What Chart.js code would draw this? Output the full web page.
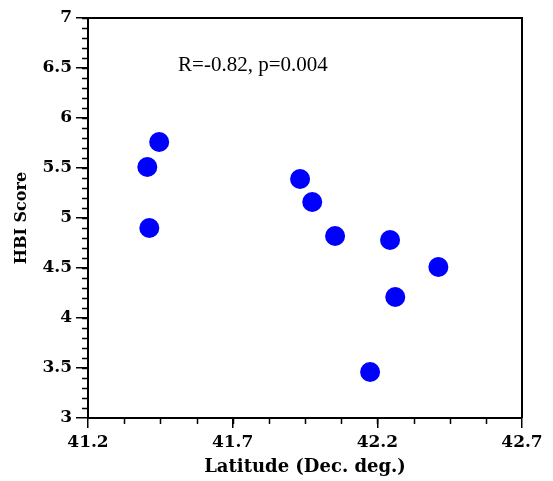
<!DOCTYPE html>
<html>
<head>
<meta charset="utf-8">
<script src="https://cdn.jsdelivr.net/npm/chart.js@4"></script>
<style>
  body { margin: 0; background: #fff; }
</style>
</head>
<body>
<canvas id="hbi_chart" width="553" height="481"></canvas>
<script>
const latitude = [41.446, 41.405, 41.412, 41.933, 41.975, 42.054, 42.244, 42.411, 42.262, 42.175]
const hbiScore = [5.76, 5.51, 4.90, 5.39, 5.16, 4.82, 4.78, 4.51, 4.21, 3.46]
const xTicks = [41.2, 41.7, 42.2, 42.7]
const yTicks = [3, 3.5, 4, 4.5, 5, 5.5, 6, 6.5, 7]
const statsText = 'R=-0.82, p=0.004'
const statsAt = [41.77, 6.53]

const tickFont = { family: 'DejaVu Serif', weight: 'bold', size: 17 }

// box round the plot, minor ticks and the R/p note
const extras = {
  id: 'extras',
  afterDraw(chart) {
    const ctx = chart.ctx
    const { left, right, top, bottom } = chart.chartArea
    const x = chart.scales.x
    const y = chart.scales.y
    ctx.save()
    ctx.strokeStyle = '#000'
    ctx.lineWidth = 1.5
    ctx.beginPath()
    for (let v = 3.1; v < 7; v += 0.1) {
      const py = Math.round(y.getPixelForValue(v)) + 0.5
      ctx.moveTo(left - 6, py)
      ctx.lineTo(left, py)
    }
    for (let v = 41.325; v < 42.7; v += 0.125) {
      const px = Math.round(x.getPixelForValue(v)) + 0.5
      ctx.moveTo(px, bottom)
      ctx.lineTo(px, bottom + 6)
    }
    ctx.stroke()
    ctx.lineWidth = 2
    ctx.beginPath()
    ctx.moveTo(left, top)
    ctx.lineTo(right, top)
    ctx.lineTo(right, bottom)
    ctx.stroke()
    ctx.fillStyle = '#000'
    ctx.font = '21px "Liberation Serif"'
    ctx.textAlign = 'center'
    ctx.textBaseline = 'middle'
    ctx.fillText(statsText, x.getPixelForValue(statsAt[0]), y.getPixelForValue(statsAt[1]))
    ctx.restore()
  },
}

new Chart(document.getElementById('hbi_chart'), {
  type: 'scatter',
  data: {
    datasets: [
      {
        data: latitude.map((lat, i) => ({ x: lat, y: hbiScore[i] })),
        backgroundColor: '#0000ff',
        borderWidth: 0,
        pointRadius: 10,
        pointHoverRadius: 10,
      },
    ],
  },
  options: {
    responsive: false,
    animation: false,
    layout: { padding: { top: 18, right: 31, bottom: 0, left: 0 } },
    plugins: {
      legend: { display: false },
      tooltip: { enabled: false },
    },
    scales: {
      x: {
        type: 'linear',
        min: 41.2,
        max: 42.7,
        afterBuildTicks: (scale) => {
          scale.ticks = xTicks.map((v) => ({ value: v }))
        },
        afterFit: (scale) => {
          scale.height = 63
        },
        grid: { drawOnChartArea: false, tickLength: 10, color: '#000', lineWidth: 1.5 },
        border: { color: '#000', width: 2 },
        ticks: {
          color: '#000',
          font: tickFont,
          padding: 4,
          maxRotation: 0,
          callback: (v) => String(v),
        },
        title: {
          display: true,
          text: 'Latitude (Dec. deg.)',
          color: '#000',
          font: { family: 'DejaVu Serif', weight: 'bold', size: 18 },
          padding: { top: 0, bottom: 3 },
        },
      },
      y: {
        type: 'linear',
        min: 3,
        max: 7,
        afterBuildTicks: (scale) => {
          scale.ticks = yTicks.map((v) => ({ value: v }))
        },
        afterFit: (scale) => {
          scale.width = 88
        },
        grid: { drawOnChartArea: false, tickLength: 12, color: '#000', lineWidth: 1.5 },
        border: { color: '#000', width: 2 },
        ticks: {
          color: '#000',
          font: tickFont,
          padding: 4,
          callback: (v) => String(v),
        },
        title: {
          display: true,
          text: 'HBI Score',
          color: '#000',
          font: { family: 'DejaVu Serif', weight: 'bold', size: 16 },
          padding: { top: 12, bottom: 0 },
        },
      },
    },
  },
  plugins: [extras],
})
</script>
</body>
</html>
